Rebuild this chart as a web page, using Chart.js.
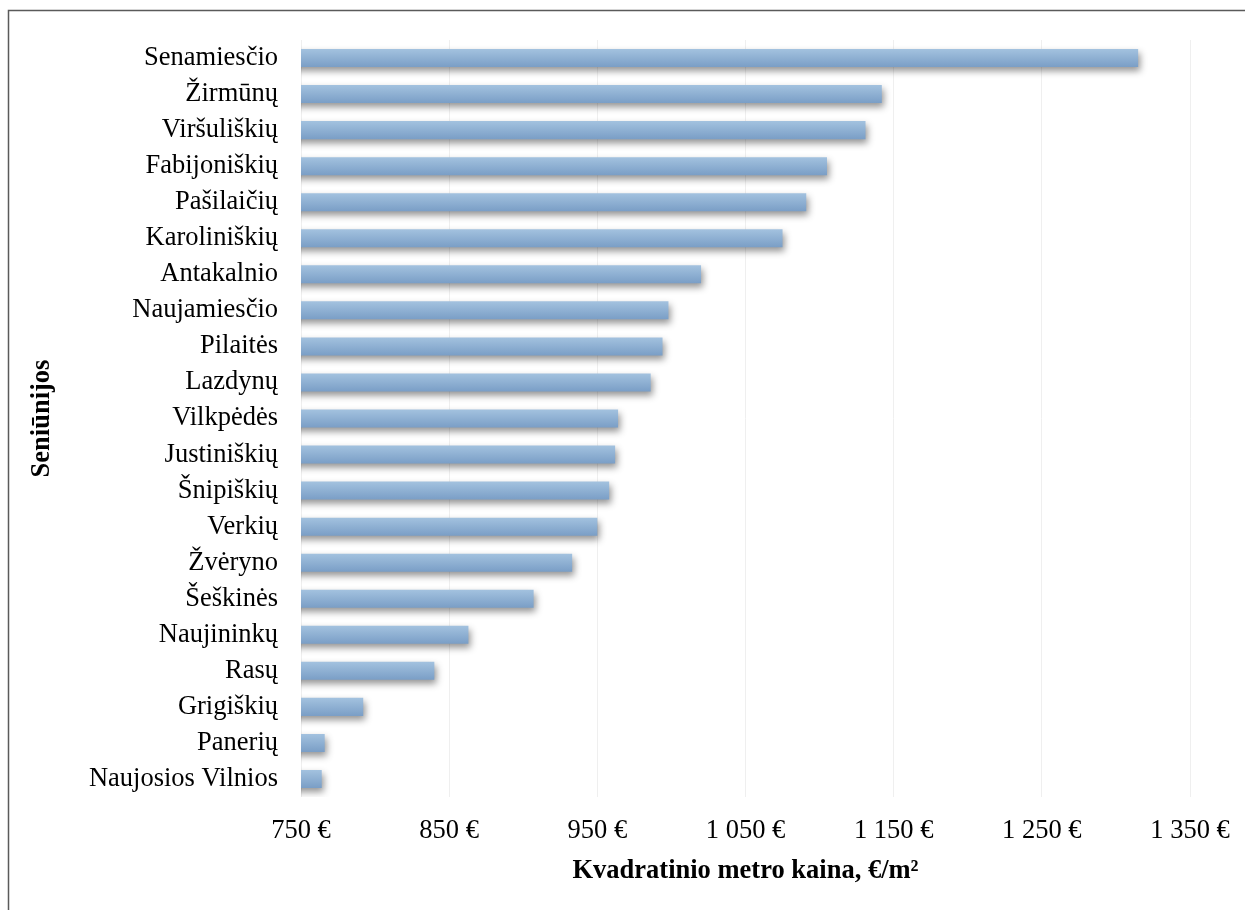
<!DOCTYPE html>
<html>
<head>
<meta charset="utf-8">
<script src="https://cdn.jsdelivr.net/npm/chart.js@4/dist/chart.umd.min.js"></script>
<style>
  html, body { margin: 0; padding: 0; background: #fff; }
  #wrap { position: relative; width: 1245px; height: 910px; }
</style>
</head>
<body>
<div id="wrap"><canvas id="kainos" width="1245" height="910"></canvas></div>
<script>
const seniunijos = ['Senamiesčio', 'Žirmūnų', 'Viršuliškių', 'Fabijoniškių', 'Pašilaičių', 'Karoliniškių',
    'Antakalnio', 'Naujamiesčio', 'Pilaitės', 'Lazdynų', 'Vilkpėdės', 'Justiniškių', 'Šnipiškių', 'Verkių',
    'Žvėryno', 'Šeškinės', 'Naujininkų', 'Rasų', 'Grigiškių', 'Panerių', 'Naujosios Vilnios'];
const kaina = [1315, 1142, 1131, 1105, 1091, 1075, 1020, 998, 994, 986, 964, 962, 958, 950,
    933, 907, 863, 840, 792, 766, 764];
const kainaTicks = [750, 850, 950, 1050, 1150, 1250, 1350];

const serif = 'Liberation Serif, Times New Roman, serif';

// 1 050 €
function euro(v) {
    return String(v).replace(/\B(?=(\d{3})+(?!\d))/g, ' ') + ' €';
}

// gradient fill and soft drop shadow on each bar
const barStyle = {
    id: 'barStyle',
    beforeDatasetsDraw(chart) {
        const c = chart.ctx;
        chart.getDatasetMeta(0).data.forEach(bar => {
            const top = bar.y - bar.height / 2;
            const g = c.createLinearGradient(0, top, 0, top + bar.height);
            g.addColorStop(0, '#a3c2df');
            g.addColorStop(1, '#7a9ec6');
            bar.options.backgroundColor = g;
        });
        c.save();
        c.shadowColor = 'rgba(0, 0, 0, 0.42)';
        c.shadowBlur = 7;
        c.shadowOffsetX = 2;
        c.shadowOffsetY = 4;
    },
    afterDatasetsDraw(chart) {
        chart.ctx.restore();
    }
};

// frame line on the left and top edge
const frame = {
    id: 'frame',
    beforeDraw(chart) {
        const c = chart.ctx;
        c.save();
        c.strokeStyle = '#5a5a5a';
        c.lineWidth = 1.5;
        c.beginPath();
        c.moveTo(8.5, chart.height);
        c.lineTo(8.5, 10.5);
        c.lineTo(chart.width, 10.5);
        c.stroke();
        c.restore();
    }
};

new Chart(document.getElementById('kainos'), {
    type: 'bar',
    data: {
        labels: seniunijos,
        datasets: [{
            data: kaina,
            backgroundColor: () => '#8fb0d4',
            borderWidth: 0,
            barPercentage: 0.5,
            categoryPercentage: 1
        }]
    },
    options: {
        indexAxis: 'y',
        responsive: false,
        animation: false,
        layout: { padding: { top: 40, right: 55, bottom: 23, left: 10 } },
        plugins: {
            legend: { display: false },
            tooltip: { enabled: false }
        },
        scales: {
            x: {
                min: 750,
                max: 1350,
                afterBuildTicks(scale) {
                    scale.ticks = kainaTicks.map(v => ({ value: v }));
                },
                grid: { color: '#efefef', lineWidth: 1, drawTicks: false },
                border: { display: false },
                ticks: {
                    color: '#000',
                    padding: 18,
                    font: { family: serif, size: 26.5 },
                    callback: v => euro(v)
                },
                title: {
                    display: true,
                    text: 'Kvadratinio metro kaina, €/m²',
                    color: '#000',
                    padding: { top: 0, bottom: 0 },
                    font: { family: serif, size: 26.5, weight: 'bold' }
                },
                afterFit(scale) {
                    scale.height = 90;
                    scale.paddingLeft = 0;
                    scale.paddingRight = 0;
                }
            },
            y: {
                grid: { display: false, drawTicks: false },
                border: { display: false },
                ticks: {
                    color: '#000',
                    padding: 23,
                    autoSkip: false,
                    font: { family: serif, size: 26.5 }
                },
                title: {
                    display: true,
                    text: 'Seniūnijos',
                    color: '#000',
                    padding: { top: 16, bottom: 0 },
                    font: { family: serif, size: 26.5, weight: 'bold' }
                },
                afterFit(scale) {
                    scale.width = 291;
                }
            }
        }
    },
    plugins: [frame, barStyle]
});
</script>
</body>
</html>
